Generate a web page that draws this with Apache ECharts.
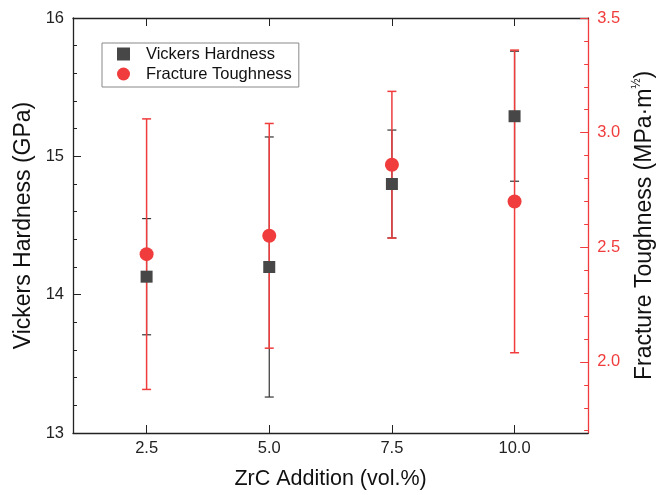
<!DOCTYPE html>
<html>
<head>
<meta charset="UTF-8">
<title>ZrC</title>
<script src="https://cdn.jsdelivr.net/npm/echarts@6/dist/echarts.min.js"></script>
<style>
  html, body { margin: 0; padding: 0; background: #fff; }
  #main { width: 664px; height: 495px; }
</style>
</head>
<body>
<div id="main"></div>
<script type="text/javascript">
    // ZrC addition (vol.%)
    var zrc = [2.5, 5.0, 7.5, 10.0];
    // Vickers hardness (GPa) and its error
    var hardness = [14.13, 14.20, 14.80, 15.29];
    var hardnessErr = [0.42, 0.94, 0.39, 0.47];
    // fracture toughness (MPa·m^1/2) and its error
    var toughness = [2.47, 2.55, 2.86, 2.70];
    var toughnessErr = [0.59, 0.49, 0.32, 0.66];

    var xTicks = [2.5, 5.0, 7.5, 10.0];
    var leftMinor = [13.2, 13.4, 13.6, 13.8, 14.2, 14.4, 14.6, 14.8, 15.2, 15.4, 15.6, 15.8];
    var rightMajor = [2.0, 2.5, 3.0, 3.5];
    var rightMinor = [1.7, 1.8, 1.9, 2.1, 2.2, 2.3, 2.4, 2.6, 2.7, 2.8, 2.9, 3.1, 3.2, 3.3, 3.4];

    var RED = '#f03c3c';
    var DARK = '#474747';
    var FONT = '"Liberation Sans", Arial, sans-serif';

    var myChart = echarts.init(document.getElementById('main'));

    function errRows(vals, errs) {
        return zrc.map(function (x, i) {
            return [x, vals[i] - errs[i], vals[i] + errs[i]];
        });
    }

    function errBar(color, width) {
        return function (params, api) {
            var x = api.value(0);
            var top = api.coord([x, api.value(2)]);
            var bot = api.coord([x, api.value(1)]);
            var style = { stroke: color, lineWidth: width };
            var h = 4.5;
            return {
                type: 'group',
                children: [
                    { type: 'line', shape: { x1: top[0], y1: top[1], x2: bot[0], y2: bot[1] }, style: style },
                    { type: 'line', shape: { x1: top[0] - h, y1: top[1], x2: top[0] + h, y2: top[1] }, style: style },
                    { type: 'line', shape: { x1: bot[0] - h, y1: bot[1], x2: bot[0] + h, y2: bot[1] }, style: style }
                ]
            };
        };
    }

    // extra axis that only draws short inner ticks
    function minorAxis(pos, min, max, values, color) {
        return {
            type: 'value',
            min: min,
            max: max,
            position: pos,
            axisLine: { show: false },
            axisTick: { inside: true, length: 4, customValues: values, lineStyle: { color: color } },
            axisLabel: { show: false },
            splitLine: { show: false }
        };
    }

    var option = {
        backgroundColor: '#fff',
        animation: false,
        textStyle: { fontFamily: FONT },
        grid: { left: 73, right: 75, top: 18, bottom: 62 },
        legend: {
            orient: 'vertical',
            left: 102,
            top: 43,
            padding: [2, 7, 4, 15],
            itemGap: 2,
            itemWidth: 13,
            itemHeight: 13,
            borderColor: '#888',
            borderWidth: 1,
            textStyle: { fontSize: 16.5, color: '#111', lineHeight: 18, padding: [0, 0, 0, 11] },
            data: [
                { name: 'Vickers Hardness', icon: 'rect' },
                { name: 'Fracture Toughness', icon: 'circle' }
            ]
        },
        xAxis: [
            {
                type: 'value',
                min: 1,
                max: 11.5,
                position: 'bottom',
                name: 'ZrC Addition (vol.%)',
                nameLocation: 'middle',
                nameGap: 35,
                nameTextStyle: { fontSize: 21.5, color: '#111' },
                axisLine: { lineStyle: { color: '#222', width: 1.3 } },
                axisTick: { inside: true, length: 8, customValues: xTicks, lineStyle: { color: '#222' } },
                axisLabel: {
                    customValues: xTicks, fontSize: 16.5, color: '#222', margin: 7,
                    formatter: function (v) { return v.toFixed(1); }
                },
                splitLine: { show: false }
            },
            {
                type: 'value',
                min: 1,
                max: 11.5,
                position: 'top',
                axisLine: { lineStyle: { color: '#222', width: 1.3 } },
                axisTick: { inside: true, length: 8, customValues: xTicks, lineStyle: { color: '#222' } },
                axisLabel: { show: false },
                splitLine: { show: false }
            }
        ],
        yAxis: [
            {
                type: 'value',
                min: 13,
                max: 16,
                interval: 1,
                position: 'left',
                name: 'Vickers Hardness (GPa)',
                nameLocation: 'middle',
                nameGap: 38,
                nameRotate: 90,
                nameTextStyle: { fontSize: 23, color: '#111' },
                axisLine: { show: true, lineStyle: { color: '#222', width: 1.3 } },
                axisTick: { inside: true, length: 8, lineStyle: { color: '#222' } },
                axisLabel: { fontSize: 16.5, color: '#222', margin: 9 },
                splitLine: { show: false }
            },
            {
                type: 'value',
                min: 1.69,
                max: 3.5,
                position: 'right',
                name: '{a|Fracture Toughness (MPa·m}{s|½}{a|)}',
                nameLocation: 'middle',
                nameGap: 42,
                nameRotate: 90,
                nameTextStyle: {
                    color: '#111',
                    rich: {
                        a: { fontSize: 23, color: '#111', lineHeight: 25, verticalAlign: 'bottom' },
                        s: { fontSize: 12, color: '#111', lineHeight: 25, verticalAlign: 'top', padding: [0, 0, 8, 0] }
                    }
                },
                axisLine: { show: true, lineStyle: { color: RED, width: 1.3 } },
                axisTick: { inside: true, length: 8, customValues: rightMajor, lineStyle: { color: RED } },
                axisLabel: {
                    customValues: rightMajor, fontSize: 16.5, color: RED, margin: 9,
                    formatter: function (v) { return v.toFixed(1); }
                },
                splitLine: { show: false }
            },
            minorAxis('right', 1.69, 3.5, rightMinor, RED),
            minorAxis('left', 13, 16, leftMinor, '#222')
        ],
        series: [
            {
                name: 'hardness error',
                type: 'custom',
                xAxisIndex: 0,
                yAxisIndex: 0,
                renderItem: errBar('#333', 1.2),
                encode: { x: 0, y: [1, 2] },
                data: errRows(hardness, hardnessErr),
                silent: true
            },
            {
                name: 'Vickers Hardness',
                type: 'scatter',
                xAxisIndex: 0,
                yAxisIndex: 0,
                symbol: 'rect',
                symbolSize: 12,
                itemStyle: { color: DARK, opacity: 1 },
                data: zrc.map(function (x, i) { return [x, hardness[i]]; })
            },
            {
                name: 'toughness error',
                type: 'custom',
                xAxisIndex: 0,
                yAxisIndex: 1,
                renderItem: errBar(RED, 1.5),
                encode: { x: 0, y: [1, 2] },
                data: errRows(toughness, toughnessErr),
                silent: true
            },
            {
                name: 'Fracture Toughness',
                type: 'scatter',
                xAxisIndex: 0,
                yAxisIndex: 1,
                symbol: 'circle',
                symbolSize: 14,
                itemStyle: { color: RED, opacity: 1 },
                data: zrc.map(function (x, i) { return [x, toughness[i]]; })
            }
        ]
    };

    myChart.setOption(option);
</script>
</body>
</html>
